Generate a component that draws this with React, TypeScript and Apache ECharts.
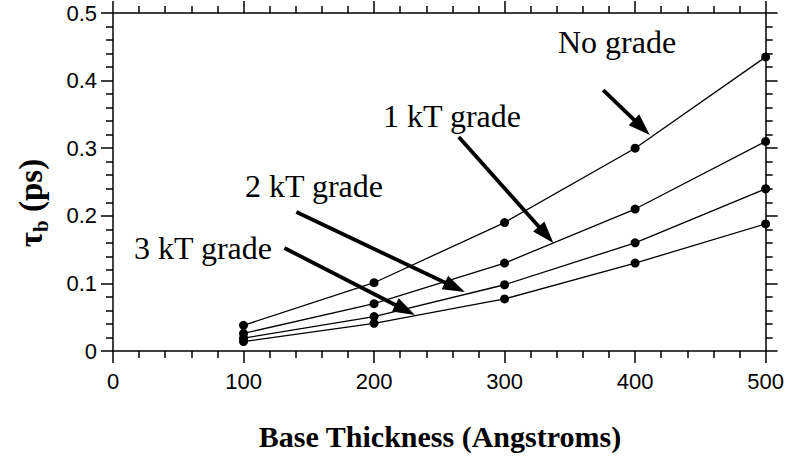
import React, { useEffect, useRef } from "react";
import * as echarts from "echarts";

const thickness = [100, 200, 300, 400, 500];
const noGrade = [0.038, 0.101, 0.19, 0.3, 0.435];
const grade1kT = [0.026, 0.07, 0.13, 0.21, 0.31];
const grade2kT = [0.019, 0.051, 0.098, 0.16, 0.24];
const grade3kT = [0.014, 0.041, 0.077, 0.13, 0.188];

const seriesNames = ["No grade", "1 kT grade", "2 kT grade", "3 kT grade"];
const seriesValues = [noGrade, grade1kT, grade2kT, grade3kT];

// arrow annotations in data coordinates: [startX, startY, endX, endY]
const arrows = [
  [375.6, 0.386, 405.2, 0.3308],
  [264.9, 0.3166, 331.8, 0.1719],
  [140.5, 0.2056, 261.9, 0.0942],
  [131.3, 0.1524, 223.8, 0.0607],
];

const serif = "'Liberation Serif', 'Times New Roman', serif";
const sans = "'Liberation Sans', Arial, sans-serif";

// narrow triangle (apex up) inside a square bounding box
const arrowHead = "path://M-3.5,0 L-3.5,0 M18.5,22 L18.5,22 M7.5,0 L15,22 L0,22 Z";

export default function App() {
  const ref = useRef<HTMLDivElement>(null);
  useEffect(() => {
    const chart = echarts.init(ref.current!, null, { renderer: "svg" });
    const axisCommon = {
      type: "value" as const,
      axisLine: { show: true, onZero: false, lineStyle: { color: "#000", width: 1.5 } },
      axisTick: { show: true, inside: false, length: 12, lineStyle: { color: "#000", width: 1.5 } },
      minorTick: { show: true, splitNumber: 5, length: 7, lineStyle: { color: "#000", width: 1.5 } },
      splitLine: { show: false },
      minorSplitLine: { show: false },
    };
    const series: any[] = seriesValues.map((vals, i) => ({
      name: seriesNames[i],
      type: "line",
      data: thickness.map((t, j) => [t, vals[j]]),
      symbol: "circle",
      symbolSize: 9,
      itemStyle: { color: "#000" },
      lineStyle: { color: "#000", width: 1.3 },
      z: 3,
    }));
    series.push({
      type: "line",
      data: [],
      markLine: {
        silent: true,
        symbol: ["none", arrowHead],
        symbolSize: 22,
        label: { show: false },
        itemStyle: { color: "#000" },
        lineStyle: { color: "#000", width: 3.8, type: "solid" },
        data: arrows.map((a) => [
          { coord: [a[0], a[1]] },
          { coord: [a[2], a[3]] },
        ]),
      },
    });
    const textStyle = (text: string, x: number, y: number) => ({
      type: "text",
      x,
      y,
      style: {
        text,
        font: `32px ${serif}`,
        fill: "#000",
        textAlign: "center",
        textVerticalAlign: "middle",
      },
    });
    chart.setOption({
      animation: false,
      backgroundColor: "#fff",
      grid: { left: 113, right: 19, top: 13, bottom: 115 },
      xAxis: [
        {
          ...axisCommon,
          position: "bottom",
          min: 0,
          max: 500,
          interval: 100,
          axisLabel: { show: true, margin: 19, color: "#000", fontSize: 22, fontFamily: sans },
        },
        {
          ...axisCommon,
          position: "top",
          min: 0,
          max: 500,
          interval: 100,
          axisLabel: { show: false },
        },
      ],
      yAxis: [
        {
          ...axisCommon,
          position: "left",
          min: 0,
          max: 0.5,
          interval: 0.1,
          axisLabel: { show: true, margin: 16, color: "#000", fontSize: 22, fontFamily: sans },
        },
        {
          ...axisCommon,
          position: "right",
          min: 0,
          max: 0.5,
          interval: 0.1,
          axisLabel: { show: false },
        },
      ],
      series,
      graphic: [
        textStyle("No grade", 617, 42),
        textStyle("1 kT grade", 452, 116),
        textStyle("2 kT grade", 314, 186),
        textStyle("3 kT grade", 203, 248),
        {
          type: "text",
          x: 440,
          y: 436,
          style: {
            text: "Base Thickness (Angstroms)",
            font: `bold 30px ${serif}`,
            fill: "#000",
            textAlign: "center",
            textVerticalAlign: "middle",
          },
        },
        {
          type: "text",
          x: 31,
          y: 203,
          rotation: Math.PI / 2,
          style: {
            text: "{t|τ}{s|b}{p| (ps)}",
            fill: "#000",
            textAlign: "center",
            textVerticalAlign: "middle",
            rich: {
              t: { font: `bold 33px ${serif}`, fill: "#000", lineHeight: 40, verticalAlign: "middle" },
              s: { font: `bold 21px ${serif}`, fill: "#000", lineHeight: 40, verticalAlign: "bottom" },
              p: { font: `bold 33px ${serif}`, fill: "#000", lineHeight: 40, verticalAlign: "middle" },
            },
          },
        },
      ],
    });
    return () => chart.dispose();
  }, []);
  return (
    <div
      ref={ref}
      style={{ position: "fixed", left: 0, top: 0, width: 787, height: 466, background: "#fff" }}
    />
  );
}
